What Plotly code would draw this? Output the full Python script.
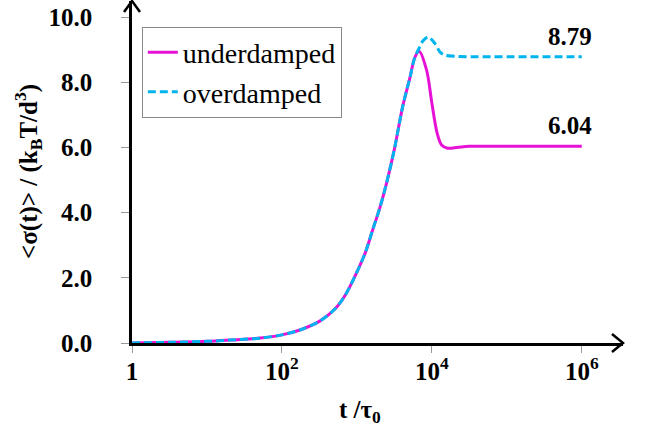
import plotly.graph_objects as go

# log10(t / tau0) sample points and the mean stress for each damping regime
underdamped_logt = [0.0, 0.5, 1.0, 1.31, 1.71, 2.0, 2.24, 2.51, 2.71, 2.84, 2.97, 3.11, 3.21, 3.31,
                    3.4, 3.5, 3.61, 3.71, 3.77, 3.83, 3.93, 4.0, 4.07, 4.13, 4.21, 4.35, 4.5, 5.0, 6.0]
underdamped_sigma = [0.0, 0.02, 0.05, 0.09, 0.15, 0.25, 0.4, 0.68, 1.05, 1.45, 2.03, 2.76, 3.47, 4.18,
                     4.95, 5.95, 7.25, 8.17, 8.75, 8.96, 8.38, 7.37, 6.45, 6.08, 5.98, 6.01, 6.04, 6.04, 6.04]

overdamped_logt = [0.0, 0.5, 1.0, 1.31, 1.71, 2.0, 2.24, 2.51, 2.71, 2.84, 2.97, 3.11, 3.21, 3.31,
                   3.4, 3.5, 3.61, 3.71, 3.77, 3.83, 3.88, 3.95, 4.04, 4.11, 4.17, 4.33, 4.6, 5.0, 6.0]
overdamped_sigma = [0.0, 0.02, 0.05, 0.09, 0.15, 0.25, 0.4, 0.68, 1.05, 1.45, 2.03, 2.76, 3.47, 4.18,
                    4.95, 5.95, 7.25, 8.17, 8.75, 9.05, 9.27, 9.39, 9.2, 8.93, 8.84, 8.8, 8.79, 8.79, 8.79]

x_tick_exponents = [0, 2, 4, 6]
x_tick_labels = ["1", "10<sup>2</sup>", "10<sup>4</sup>", "10<sup>6</sup>"]
y_tick_values = [0, 2, 4, 6, 8, 10]
y_tick_labels = ["0.0", "2.0", "4.0", "6.0", "8.0", "10.0"]

MAGENTA = "#E612D6"
CYAN = "#00B4EE"
SERIF = "'Liberation Serif', 'Times New Roman', Times, serif"

fig = go.Figure()

fig.add_trace(go.Scatter(
    x=[10 ** v for v in underdamped_logt], y=underdamped_sigma,
    mode="lines", name="underdamped", legendgroup="u", legendrank=1,
    line=dict(color=MAGENTA, width=3, shape="spline", smoothing=0.9),
))
fig.add_trace(go.Scatter(
    x=[10 ** v for v in overdamped_logt], y=overdamped_sigma,
    mode="lines", name="overdamped", legendgroup="o", legendrank=2,
    line=dict(color=CYAN, width=3, dash="8px,4px", shape="spline", smoothing=0.9),
))

# plateau values written at the right end of each curve
for logt, sigma in ((overdamped_logt, overdamped_sigma), (underdamped_logt, underdamped_sigma)):
    fig.add_annotation(
        x=logt[-1], y=sigma[-1], xref="x", yref="y",
        text=f"<b>{sigma[-1]:.2f}</b>", showarrow=False,
        xanchor="right", yanchor="bottom", xshift=12, yshift=5,
        font=dict(family=SERIF, size=25, color="black"),
    )

# axis titles
fig.add_annotation(
    x=0.464, y=0, xref="paper", yref="paper", yanchor="middle", xanchor="center",
    yshift=-68, showarrow=False, text="<b>t /τ<sub>0</sub></b>",
    font=dict(family=SERIF, size=25, color="black"),
)
fig.add_annotation(
    x=0, y=0.5, xref="paper", yref="paper", xanchor="center", yanchor="middle",
    xshift=-104, showarrow=False, textangle=-90,
    text="<b>&lt;σ(t)&gt; / (k<sub>B</sub>T/d<sup>3</sup>)</b>",
    font=dict(family=SERIF, size=25, color="black"),
)

# open chevron arrowheads at the ends of both axes
fig.add_shape(
    type="path", xref="paper", yref="paper", xsizemode="pixel", ysizemode="pixel",
    xanchor=1, yanchor=0, path="M -11 9 L 0 0 L -11 -9",
    line=dict(color="black", width=2.5),
)
fig.add_shape(
    type="path", xref="paper", yref="paper", xsizemode="pixel", ysizemode="pixel",
    xanchor=0, yanchor=1, path="M -8 -11 L 0 0 L 8 -11",
    line=dict(color="black", width=2.5),
)

fig.update_xaxes(
    type="log", range=[0, 6.55], showgrid=False, zeroline=False,
    showline=True, linecolor="black", linewidth=2.5,
    tickmode="array", tickvals=[10 ** e for e in x_tick_exponents],
    ticktext=[f"<b>{t}</b>" for t in x_tick_labels],
    ticks="outside", ticklen=7, tickcolor="#999999", tickwidth=1,
    ticklabelstandoff=-3,
    tickfont=dict(family=SERIF, size=25, color="black"),
)
fig.update_yaxes(
    range=[0, 10.5], showgrid=False, zeroline=False,
    showline=True, linecolor="black", linewidth=2.5,
    tickmode="array", tickvals=y_tick_values,
    ticktext=[f"<b>{t}</b>" for t in y_tick_labels],
    ticks="outside", ticklen=8, tickcolor="#999999", tickwidth=1,
    ticklabelstandoff=24,
    tickfont=dict(family=SERIF, size=25, color="black"),
)

fig.update_layout(
    width=654, height=430,
    margin=dict(l=132, r=31, t=1, b=87),
    paper_bgcolor="white", plot_bgcolor="white",
    showlegend=True,
    legend=dict(
        x=0.02, y=0.925, xanchor="left", yanchor="top",
        bgcolor="white", bordercolor="#888888", borderwidth=1,
        font=dict(family=SERIF, size=28, color="black"),
        traceorder="grouped", tracegroupgap=0, itemwidth=30,
    ),
)

fig.write_html("out.html")
